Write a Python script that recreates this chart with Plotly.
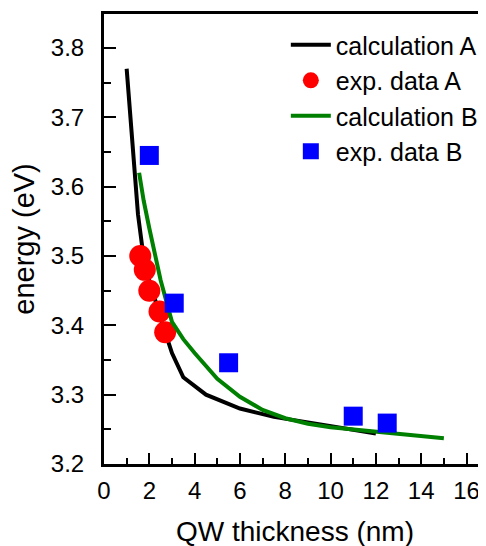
import plotly.graph_objects as go

# calculation A (black line)
calcA_x = [1.0, 1.5, 1.7, 2.0, 2.5, 3.0, 3.5, 4.5, 6.0, 7.5, 9.0, 10.5, 12.0]
calcA_y = [3.77, 3.56, 3.51, 3.465, 3.41, 3.36, 3.325, 3.30, 3.28, 3.268, 3.26, 3.252, 3.244]

# experimental data A (red circles)
expA_x = [1.6, 1.8, 2.0, 2.45, 2.7]
expA_y = [3.50, 3.48, 3.45, 3.42, 3.39]

# calculation B (green line)
calcB_x = [1.55, 1.75, 2.0, 2.5, 3.0, 3.5, 4.0, 5.0, 6.0, 7.0, 8.0, 9.0, 10.0, 12.0, 15.0]
calcB_y = [3.62, 3.58, 3.54, 3.465, 3.405, 3.38, 3.36, 3.323, 3.297, 3.278, 3.266, 3.258, 3.253, 3.247, 3.237]

# experimental data B (blue squares)
expB_x = [2.0, 3.1, 5.5, 11.0, 12.5]
expB_y = [3.645, 3.432, 3.346, 3.269, 3.259]

x_ticks = [0, 2, 4, 6, 8, 10, 12, 14, 16]
y_ticks = [3.2, 3.3, 3.4, 3.5, 3.6, 3.7, 3.8]

FONT = "Liberation Sans, Arial, sans-serif"

fig = go.Figure()
fig.add_trace(go.Scatter(x=calcA_x, y=calcA_y, mode="lines", name="calculation A",
                         line=dict(color="black", width=4)))
fig.add_trace(go.Scatter(x=expA_x, y=expA_y, mode="markers", name="exp. data A",
                         marker=dict(color="red", size=22, symbol="circle", line=dict(width=0))))
fig.add_trace(go.Scatter(x=calcB_x, y=calcB_y, mode="lines", name="calculation B",
                         line=dict(color="#008000", width=4)))
fig.add_trace(go.Scatter(x=expB_x, y=expB_y, mode="markers", name="exp. data B",
                         marker=dict(color="blue", size=19, symbol="square", line=dict(width=0))))

# the page body has an 8px default margin, so margins are offset to compensate
fig.update_layout(
    width=486, height=546,
    margin=dict(l=96, r=8, t=6, b=90, autoexpand=False),
    paper_bgcolor="white", plot_bgcolor="white",
    font=dict(family=FONT, color="black", size=24),
    showlegend=True,
    legend=dict(x=0.476, y=0.982, xanchor="left", yanchor="top",
                bgcolor="rgba(0,0,0,0)", font=dict(size=25, family=FONT),
                tracegroupgap=0, itemwidth=40),
)
fig.update_xaxes(
    range=[0, 16.86], tickvals=x_ticks, ticktext=[str(v) for v in x_ticks],
    showgrid=False, zeroline=False, automargin=False,
    showline=True, linecolor="black", linewidth=3, mirror=True,
    ticks="inside", ticklen=11, tickwidth=2, tickcolor="black",
    minor=dict(ticks="inside", ticklen=6, tickwidth=2, tickcolor="black", dtick=1, tick0=0),
    tickfont=dict(size=24), ticklabelstandoff=3,
    title=dict(text="QW thickness (nm)", font=dict(size=28), standoff=19),
)
fig.update_yaxes(
    range=[3.2, 3.849], tickvals=y_ticks, ticktext=[f"{v:.1f}" for v in y_ticks],
    showgrid=False, zeroline=False, automargin=False,
    showline=True, linecolor="black", linewidth=3,
    ticks="inside", ticklen=12, tickwidth=2, tickcolor="black",
    minor=dict(ticks="inside", ticklen=7, tickwidth=2, tickcolor="black", dtick=0.05, tick0=3.2),
    tickfont=dict(size=24), ticklabelstandoff=12,
    title=dict(text="energy (eV)", font=dict(size=29), standoff=8),
)

fig.write_html("out.html")
